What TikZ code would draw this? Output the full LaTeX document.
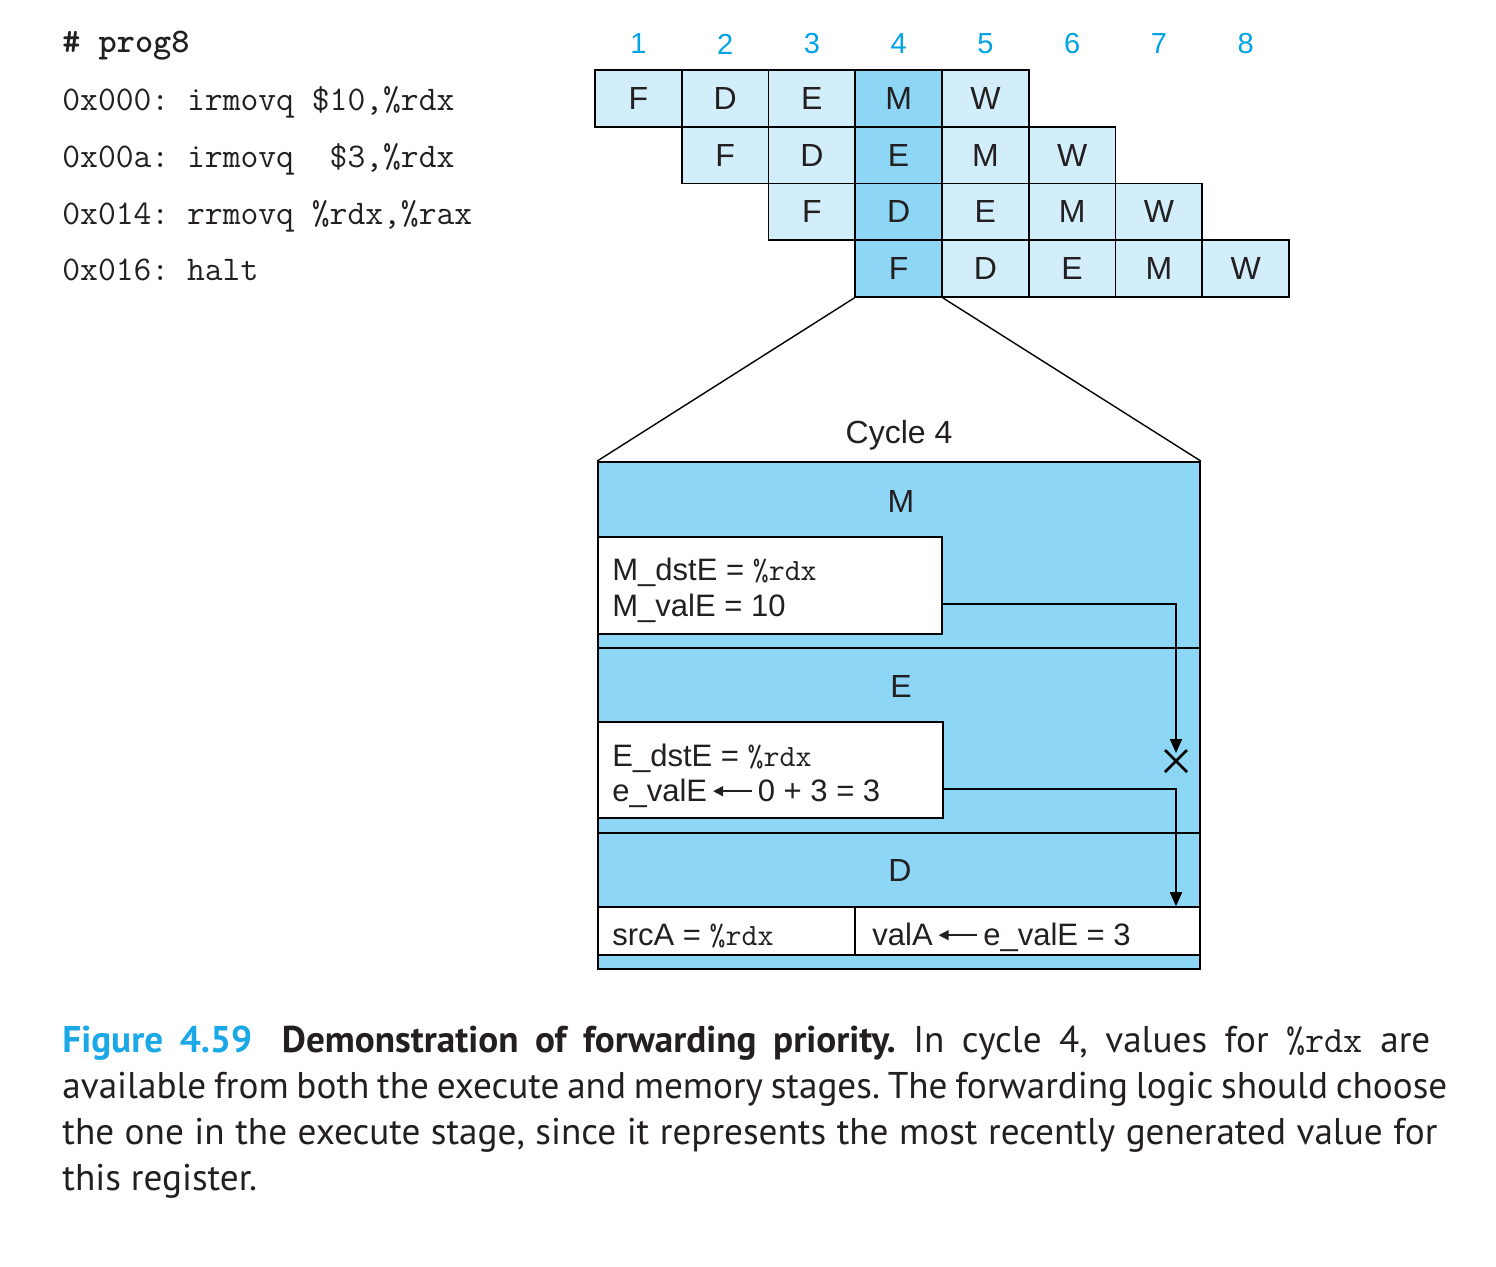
\documentclass[tikz,border=0pt]{standalone}
\usepackage{fontspec}
\setmainfont{Liberation Sans}
\newfontfamily\capfont{PT Sans}
\usetikzlibrary{arrows.meta,calc}
\definecolor{lightb}{HTML}{D3EEFB}
\definecolor{darkb}{HTML}{8DD6F6}
\definecolor{numc}{HTML}{00A3E4}
\definecolor{capc}{HTML}{1BA8E6}
\definecolor{txt}{HTML}{231F20}
\newcommand\larr{\,\tikz[baseline=-0.6ex]\draw[line width=0.8pt,{Triangle[length=5pt,width=5pt]}-] (0pt,0pt) -- (1.25em,0pt);\,}
\frenchspacing
\begin{document}
\begin{tikzpicture}[x=0.5pt,y=-0.5pt,
  pcell/.style={draw=black, line width=0.9pt, fill=lightb, minimum width=43.375pt, minimum height=28.375pt, inner sep=0pt, font=\fontsize{16}{19}\selectfont, text=txt},
  pdark/.style={pcell, fill=darkb},
  pnum/.style={text=numc, inner sep=0pt, font=\fontsize{14.5}{17}\selectfont},
  pcode/.style={anchor=base west, inner sep=0pt, font=\ttfamily\fontsize{17.3}{20}\selectfont, text=txt},
  plab/.style={inner sep=0pt, text=txt, font=\fontsize{16}{19}\selectfont},
  pval/.style={anchor=base west, inner sep=0pt, text=txt, font=\fontsize{15.5}{18}\selectfont},
  pwbox/.style={draw=black, fill=white, line width=0.8pt, inner sep=0pt},
  pconn/.style={line width=0.8pt, -{Triangle[length=7pt,width=6pt]}},
  pcap/.style={anchor=base west, inner sep=0pt, text=txt, font=\capfont\fontsize{18.6}{23}\selectfont}
]
\useasboundingbox (0,0) rectangle (1496,1266);

% code
\node[pcode] (l0) at (62,52) {\bfseries \# prog8};
\node[pcode] (l1) at (62,110) {0x000: irmovq \$10,\%rdx};
\node[pcode] (l2) at (62,167) {0x00a: irmovq \ \$3,\%rdx};
\node[pcode] (l3) at (62,224) {0x014: rrmovq \%rdx,\%rax};
\node[pcode] (l4) at (62,280) {0x016: halt};

% cycle numbers
\foreach \c in {1,...,8}
  \node[pnum] (n\c) at ({595+86.75*(\c-0.5)},44) {\c};

% pipeline grid
\foreach \r in {1,...,4} {
  \foreach [count=\k from 0] \s in {F,D,E,M,W} {
    \pgfmathtruncatemacro\c{\r+\k}
    \ifnum\c=4 \def\sty{pdark}\else\def\sty{pcell}\fi
    \node[\sty] (c\r\c) at ({595+86.75*(\c-0.5)},{70+56.75*(\r-0.5)}) {\s};
  }
}

% expanded cycle 4
\node[draw=black, line width=0.9pt, fill=darkb, minimum width=301pt, minimum height=253.5pt, inner sep=0pt] (cyc) at (899,715.5) {};
\draw[line width=0.7pt] (c44.south west) -- (cyc.north west);
\draw[line width=0.7pt] (c44.south east) -- (cyc.north east);
\node[plab] (cyl) at (899,435) {Cycle 4};

\draw[line width=0.8pt] (cyc.west |- 0,648) -- (cyc.east |- 0,648);
\draw[line width=0.8pt] (cyc.west |- 0,833) -- (cyc.east |- 0,833);

\node[plab] (sm) at (901,501) {M};
\node[plab] (se) at (901,686) {E};
\node[plab] (sd) at (900,870) {D};

\node[pwbox, minimum width=172pt, minimum height=48.5pt] (mbox) at (770,585.5) {};
\node[pval] (mt1) at (612,580) {M\_dstE = \texttt{\%rdx}};
\node[pval] (mt2) at (612,616) {M\_valE = 10};

\node[pwbox, minimum width=172.5pt, minimum height=48pt] (ebox) at (770.5,770) {};
\node[pval] (et1) at (612,766) {E\_dstE = \texttt{\%rdx}};
\node[pval] (et2) at (612,801) {e\_valE\larr 0 + 3 = 3};

\node[pwbox, minimum width=128.5pt, minimum height=24pt] (srcbox) at (726.5,931) {};
\node[pwbox, minimum width=172.5pt, minimum height=24pt] (valbox) at (1027.5,931) {};
\node[pval] (st) at (612,945) {srcA = \texttt{\%rdx}};
\node[pval] (vt) at (872,945) {valA\larr e\_valE = 3};

% forwarding connectors
\coordinate (mout) at (mbox.east |- 0,604);
\coordinate (xtip) at (1176,753);
\coordinate (xc) at (1176,761);
\draw[pconn] (mout) -| (xtip);
\draw[line width=1.3pt] ($(xc)+(-11,-11)$) -- ($(xc)+(11,11)$);
\draw[line width=1.3pt] ($(xc)+(-11,11)$) -- ($(xc)+(11,-11)$);
\coordinate (eout) at (ebox.east |- 0,789);
\coordinate (dtip) at (valbox.north -| 1176,0);
\draw[pconn] (eout) -| (dtip);

% caption
\node[pcap] (cap1) at (62,1052) {\makebox[684pt][s]{\textcolor{capc}{\bfseries Figure 4.59}\hspace{0.8em}{\bfseries Demonstration of forwarding priority.} In cycle 4, values for \texttt{\%rdx} are}};
\node[pcap] (cap2) at (62,1098) {\makebox[692.5pt][s]{available from both the execute and memory stages. The forwarding logic should choose}};
\node[pcap] (cap3) at (62,1144) {\makebox[687.5pt][s]{the one in the execute stage, since it represents the most recently generated value for}};
\node[pcap] (cap4) at (62,1190) {this register.};
\end{tikzpicture}
\end{document}
